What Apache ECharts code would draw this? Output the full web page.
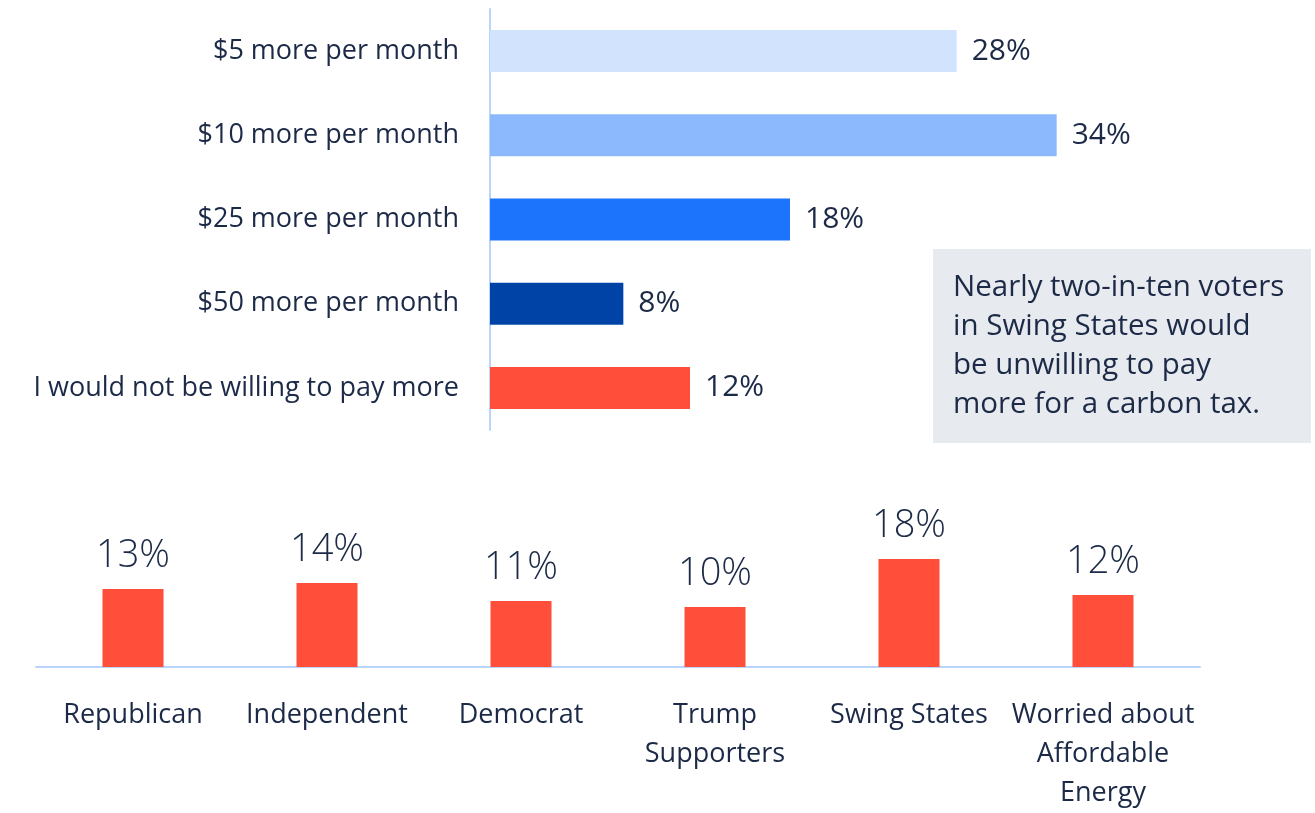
<!DOCTYPE html>
<html>
<head>
<meta charset="utf-8">
<script src="https://cdn.jsdelivr.net/npm/echarts@6/dist/echarts.min.js"></script>
<style>
  html, body { margin: 0; padding: 0; background: #ffffff; }
  #chart { width: 1315px; height: 813px; }
</style>
</head>
<body>
<div id="chart"></div>
<script>
// Willingness to pay more per month (all voters)
const payOptions = ['$5 more per month', '$10 more per month', '$25 more per month', '$50 more per month', 'I would not be willing to pay more'];
const payValues = [28, 34, 18, 8, 12];
const payColors = ['#d2e3fd', '#8cb9fd', '#1c74fc', '#0043a7', '#ff4f3a'];

// Share unwilling to pay more, by group
const groups = ['Republican', 'Independent', 'Democrat', 'Trump\nSupporters', 'Swing States', 'Worried about\nAffordable\nEnergy'];
const groupValues = [13, 14, 11, 10, 18, 12];

const calloutText = 'Nearly two-in-ten voters\nin Swing States would\nbe unwilling to pay\nmore for a carbon tax.';

const FONT = '"Open Sans", "Noto Sans", sans-serif';
const INK = '#1c2a47';
const AXIS = '#bad4fb';
const RED = '#ff4f3a';

const chart = echarts.init(document.getElementById('chart'));

chart.setOption({
  backgroundColor: '#ffffff',
  animation: false,
  textStyle: { fontFamily: FONT },
  grid: [
    { left: 490, top: 9, width: 800, height: 421 },
    { left: 36, top: 547, width: 1164, height: 127 }
  ],
  xAxis: [
    {
      gridIndex: 0, type: 'value', min: 0, max: 48,
      show: false, splitLine: { show: false }
    },
    {
      gridIndex: 1, type: 'category', data: groups,
      axisLine: { show: true, lineStyle: { color: AXIS, width: 2 } },
      axisTick: { show: false },
      axisLabel: {
        margin: 29, color: INK, fontSize: 27, lineHeight: 39,
        fontFamily: FONT, interval: 0
      }
    }
  ],
  yAxis: [
    {
      gridIndex: 0, type: 'category', data: payOptions, inverse: true,
      axisLine: { show: true, lineStyle: { color: AXIS, width: 2 } },
      axisTick: { show: false },
      axisLabel: { margin: 31, color: INK, fontSize: 27, fontFamily: FONT }
    },
    {
      gridIndex: 1, type: 'value', min: 0, max: 20,
      show: false, splitLine: { show: false }
    }
  ],
  series: [
    {
      type: 'bar', xAxisIndex: 0, yAxisIndex: 0,
      barWidth: 42,
      data: payValues.map((v, i) => ({ value: v, itemStyle: { color: payColors[i] } })),
      label: {
        show: true, position: 'right', distance: 15,
        formatter: '{c}%', color: INK, fontSize: 30, fontFamily: FONT
      }
    },
    {
      type: 'bar', xAxisIndex: 1, yAxisIndex: 1,
      barWidth: 61,
      itemStyle: { color: RED },
      data: groupValues,
      label: {
        show: true, position: 'top', distance: 14,
        formatter: '{c}%', color: INK, fontSize: 38, fontWeight: 300, fontFamily: FONT
      }
    }
  ],
  graphic: [
    {
      type: 'rect', left: 933, top: 249,
      shape: { width: 378, height: 194 },
      style: { fill: '#e7eaee' }
    },
    {
      type: 'text', left: 953, top: 268,
      style: {
        text: calloutText, fill: INK, fontSize: 29.5, lineHeight: 39,
        fontFamily: FONT
      }
    }
  ]
});
</script>
</body>
</html>
